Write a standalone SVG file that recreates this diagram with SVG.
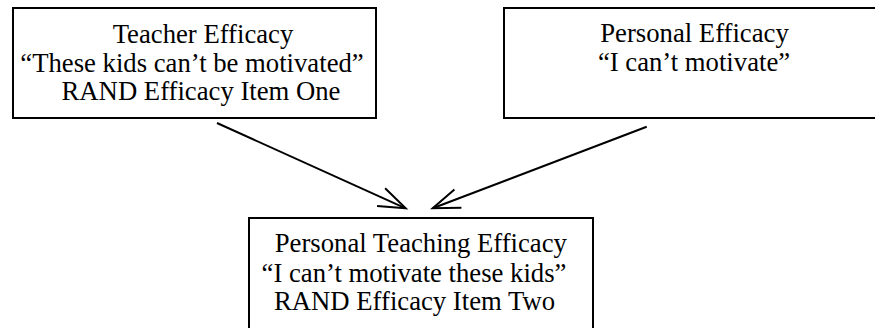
<svg xmlns="http://www.w3.org/2000/svg" width="875" height="328" viewBox="0 0 875 328">
  <style>
    .box { fill: #ffffff; stroke: #000000; stroke-width: 2; }
    .lbl { font-family: "Liberation Serif", "Times New Roman", serif; font-size: 26.7px; fill: #000000; text-anchor: middle; }
    .conn { stroke: #000000; stroke-width: 2; fill: none; }
  </style>
  <defs>
    <marker id="arrow" markerUnits="userSpaceOnUse" markerWidth="40" markerHeight="30" viewBox="-30 -15 32 30" refX="0" refY="0" orient="auto">
      <path d="M -27,-9.8 L 0,0 L -27,9.8" fill="none" stroke="#000000" stroke-width="2"/>
    </marker>
  </defs>
  <rect width="875" height="328" fill="#ffffff"/>
  <g id="teacher-efficacy">
    <rect class="box" x="13" y="8" width="363" height="110"/>
    <text class="lbl" x="203" y="42.7">Teacher Efficacy</text>
    <text class="lbl" x="192" y="71.7">“These kids can’t be motivated”</text>
    <text class="lbl" x="201" y="100">RAND Efficacy Item One</text>
  </g>
  <g id="personal-efficacy">
    <rect class="box" x="504" y="8" width="373" height="110"/>
    <text class="lbl" x="694.5" y="41.7">Personal Efficacy</text>
    <text class="lbl" x="694" y="70.7">“I can’t motivate”</text>
  </g>
  <g id="personal-teaching-efficacy">
    <rect class="box" x="249" y="218" width="344" height="115"/>
    <text class="lbl" x="420.8" y="251.7">Personal Teaching Efficacy</text>
    <text class="lbl" x="414" y="281.7">“I can’t motivate these kids”</text>
    <text class="lbl" x="414.5" y="310">RAND Efficacy Item Two</text>
  </g>
  <g id="connectors">
    <line class="conn" x1="217" y1="123" x2="405.7" y2="208.3" marker-end="url(#arrow)"/>
    <line class="conn" x1="646.7" y1="126.7" x2="432.7" y2="208.3" marker-end="url(#arrow)"/>
  </g>
</svg>
